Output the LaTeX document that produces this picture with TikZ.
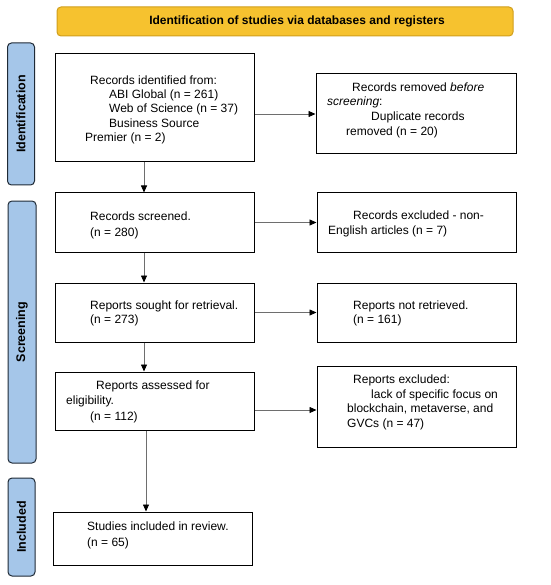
\documentclass[tikz,border=0pt]{standalone}
\usepackage{fontspec}
\setmainfont{Liberation Sans}
\usetikzlibrary{arrows.meta}
\definecolor{banner}{HTML}{F6C22F}
\definecolor{bannerline}{HTML}{D09E1C}
\definecolor{phase}{HTML}{A5C6E9}
\definecolor{phaseline}{HTML}{1F2A36}
\definecolor{arrowgray}{HTML}{6E6E6E}
\tikzset{
  flowbox/.style={draw=black, line width=1pt, fill=white},
  phasebar/.style={draw=phaseline, line width=1pt, fill=phase, rounded corners=4pt},
  phaselabel/.style={rotate=90, font=\fontsize{12.5}{14}\selectfont\bfseries, text=black},
  txt/.style={anchor=base west, inner sep=0pt, font=\fontsize{12}{14.5}\selectfont, align=left},
  flow/.style={draw=arrowgray, line width=0.8pt, -{Triangle[length=7pt,width=6pt,fill=black,color=black]}}
}
\begin{document}
\begin{tikzpicture}[x=1pt,y=-1pt]
\useasboundingbox (0,0) rectangle (550,585);
% banner
\node[draw=bannerline, line width=1pt, fill=banner, rounded corners=4pt, minimum width=456pt, minimum height=29pt, inner sep=0pt] (banner) at (285,21.5) {};
\node[inner sep=0pt, font=\fontsize{12}{14}\selectfont\bfseries] (bannertext) at (297,21.5) {Identification of studies via databases and registers};
% phase bars
\node[phasebar, minimum width=27pt, minimum height=142pt, inner sep=0pt] (pid) at (21,114) {};
\node[phaselabel] (pidl) at (pid.center) {Identification};
\node[phasebar, minimum width=28pt, minimum height=262pt, inner sep=0pt] (pscr) at (22,332) {};
\node[phaselabel] (pscrl) at (pscr.center) {Screening};
\node[phasebar, minimum width=27pt, minimum height=98pt, inner sep=0pt] (pinc) at (21.5,527) {};
\node[phaselabel] (pincl) at (pinc.center) {Included};
% boxes
\node[flowbox, minimum width=199pt, minimum height=108pt, inner sep=0pt] (b1) at (154.5,108) {};
\node[flowbox, minimum width=200pt, minimum height=80pt, inner sep=0pt] (b2) at (416,114) {};
\node[flowbox, minimum width=199pt, minimum height=59pt, inner sep=0pt] (b3) at (154.5,222.5) {};
\node[flowbox, minimum width=199pt, minimum height=59pt, inner sep=0pt] (b4) at (416.5,222.5) {};
\node[flowbox, minimum width=199pt, minimum height=59pt, inner sep=0pt] (b5) at (154.5,312.5) {};
\node[flowbox, minimum width=199pt, minimum height=59pt, inner sep=0pt] (b6) at (416.5,312.5) {};
\node[flowbox, minimum width=199pt, minimum height=58pt, inner sep=0pt] (b7) at (154.5,401) {};
\node[flowbox, minimum width=199pt, minimum height=81pt, inner sep=0pt] (b8) at (416.5,406.5) {};
\node[flowbox, minimum width=199pt, minimum height=53pt, inner sep=0pt] (b9) at (152.5,538.5) {};
% texts
\node[txt] (t1a) at (90,84.5) {Records identified from:};
\node[txt] (t1b) at (109,98.5) {ABI Global (n = 261)};
\node[txt] (t1c) at (109,113) {Web of Science (n = 37)};
\node[txt] (t1d) at (109,127.5) {Business Source};
\node[txt] (t1e) at (85,141.5) {Premier (n = 2)};
\node[txt] (t2a) at (352,91.5) {Records removed \textit{before}};
\node[txt] (t2b) at (327,106) {\textit{screening}:};
\node[txt] (t2c) at (371,121) {Duplicate records};
\node[txt] (t2d) at (346,135.5) {removed (n = 20)};
\node[txt] (t3a) at (90,220) {Records screened.};
\node[txt] (t3b) at (90,236) {(n = 280)};
\node[txt] (t4a) at (353,219) {Records excluded - non-};
\node[txt] (t4b) at (328,234) {English articles (n = 7)};
\node[txt] (t5a) at (90,309) {Reports sought for retrieval.};
\node[txt] (t5b) at (90,323.5) {(n = 273)};
\node[txt] (t6a) at (353,309) {Reports not retrieved.};
\node[txt] (t6b) at (353,323.5) {(n = 161)};
\node[txt] (t7a) at (96,389) {Reports assessed for};
\node[txt] (t7b) at (66,404) {eligibility.};
\node[txt] (t7c) at (90,420) {(n = 112)};
\node[txt] (t8a) at (353,383) {Reports excluded:};
\node[txt] (t8b) at (371,398) {lack of specific focus on};
\node[txt] (t8c) at (347,412.5) {blockchain, metaverse, and};
\node[txt] (t8d) at (347,427) {GVCs (n = 47)};
\node[txt] (t9a) at (87,530) {Studies included in review.};
\node[txt] (t9b) at (87,546) {(n = 65)};
% arrows
\coordinate (ax) at (144,0);
\coordinate (ax2) at (146,0);
\draw[flow] (b1.south -| ax) -- (b3.north -| ax);
\draw[flow] (b3.south -| ax) -- (b5.north -| ax);
\draw[flow] (b5.south -| ax) -- (b7.north -| ax);
\draw[flow] (b7.south -| ax2) -- (b9.north -| ax2);
\draw[flow] (b2.west -| b1.east) -- (b2.west);
\draw[flow] (b4.west -| b3.east) -- (b4.west);
\draw[flow] (b6.west -| b5.east) -- (b6.west);
\coordinate (a8) at (0,410);
\draw[flow] (b7.east |- a8) -- (b8.west |- a8);
\end{tikzpicture}
\end{document}
